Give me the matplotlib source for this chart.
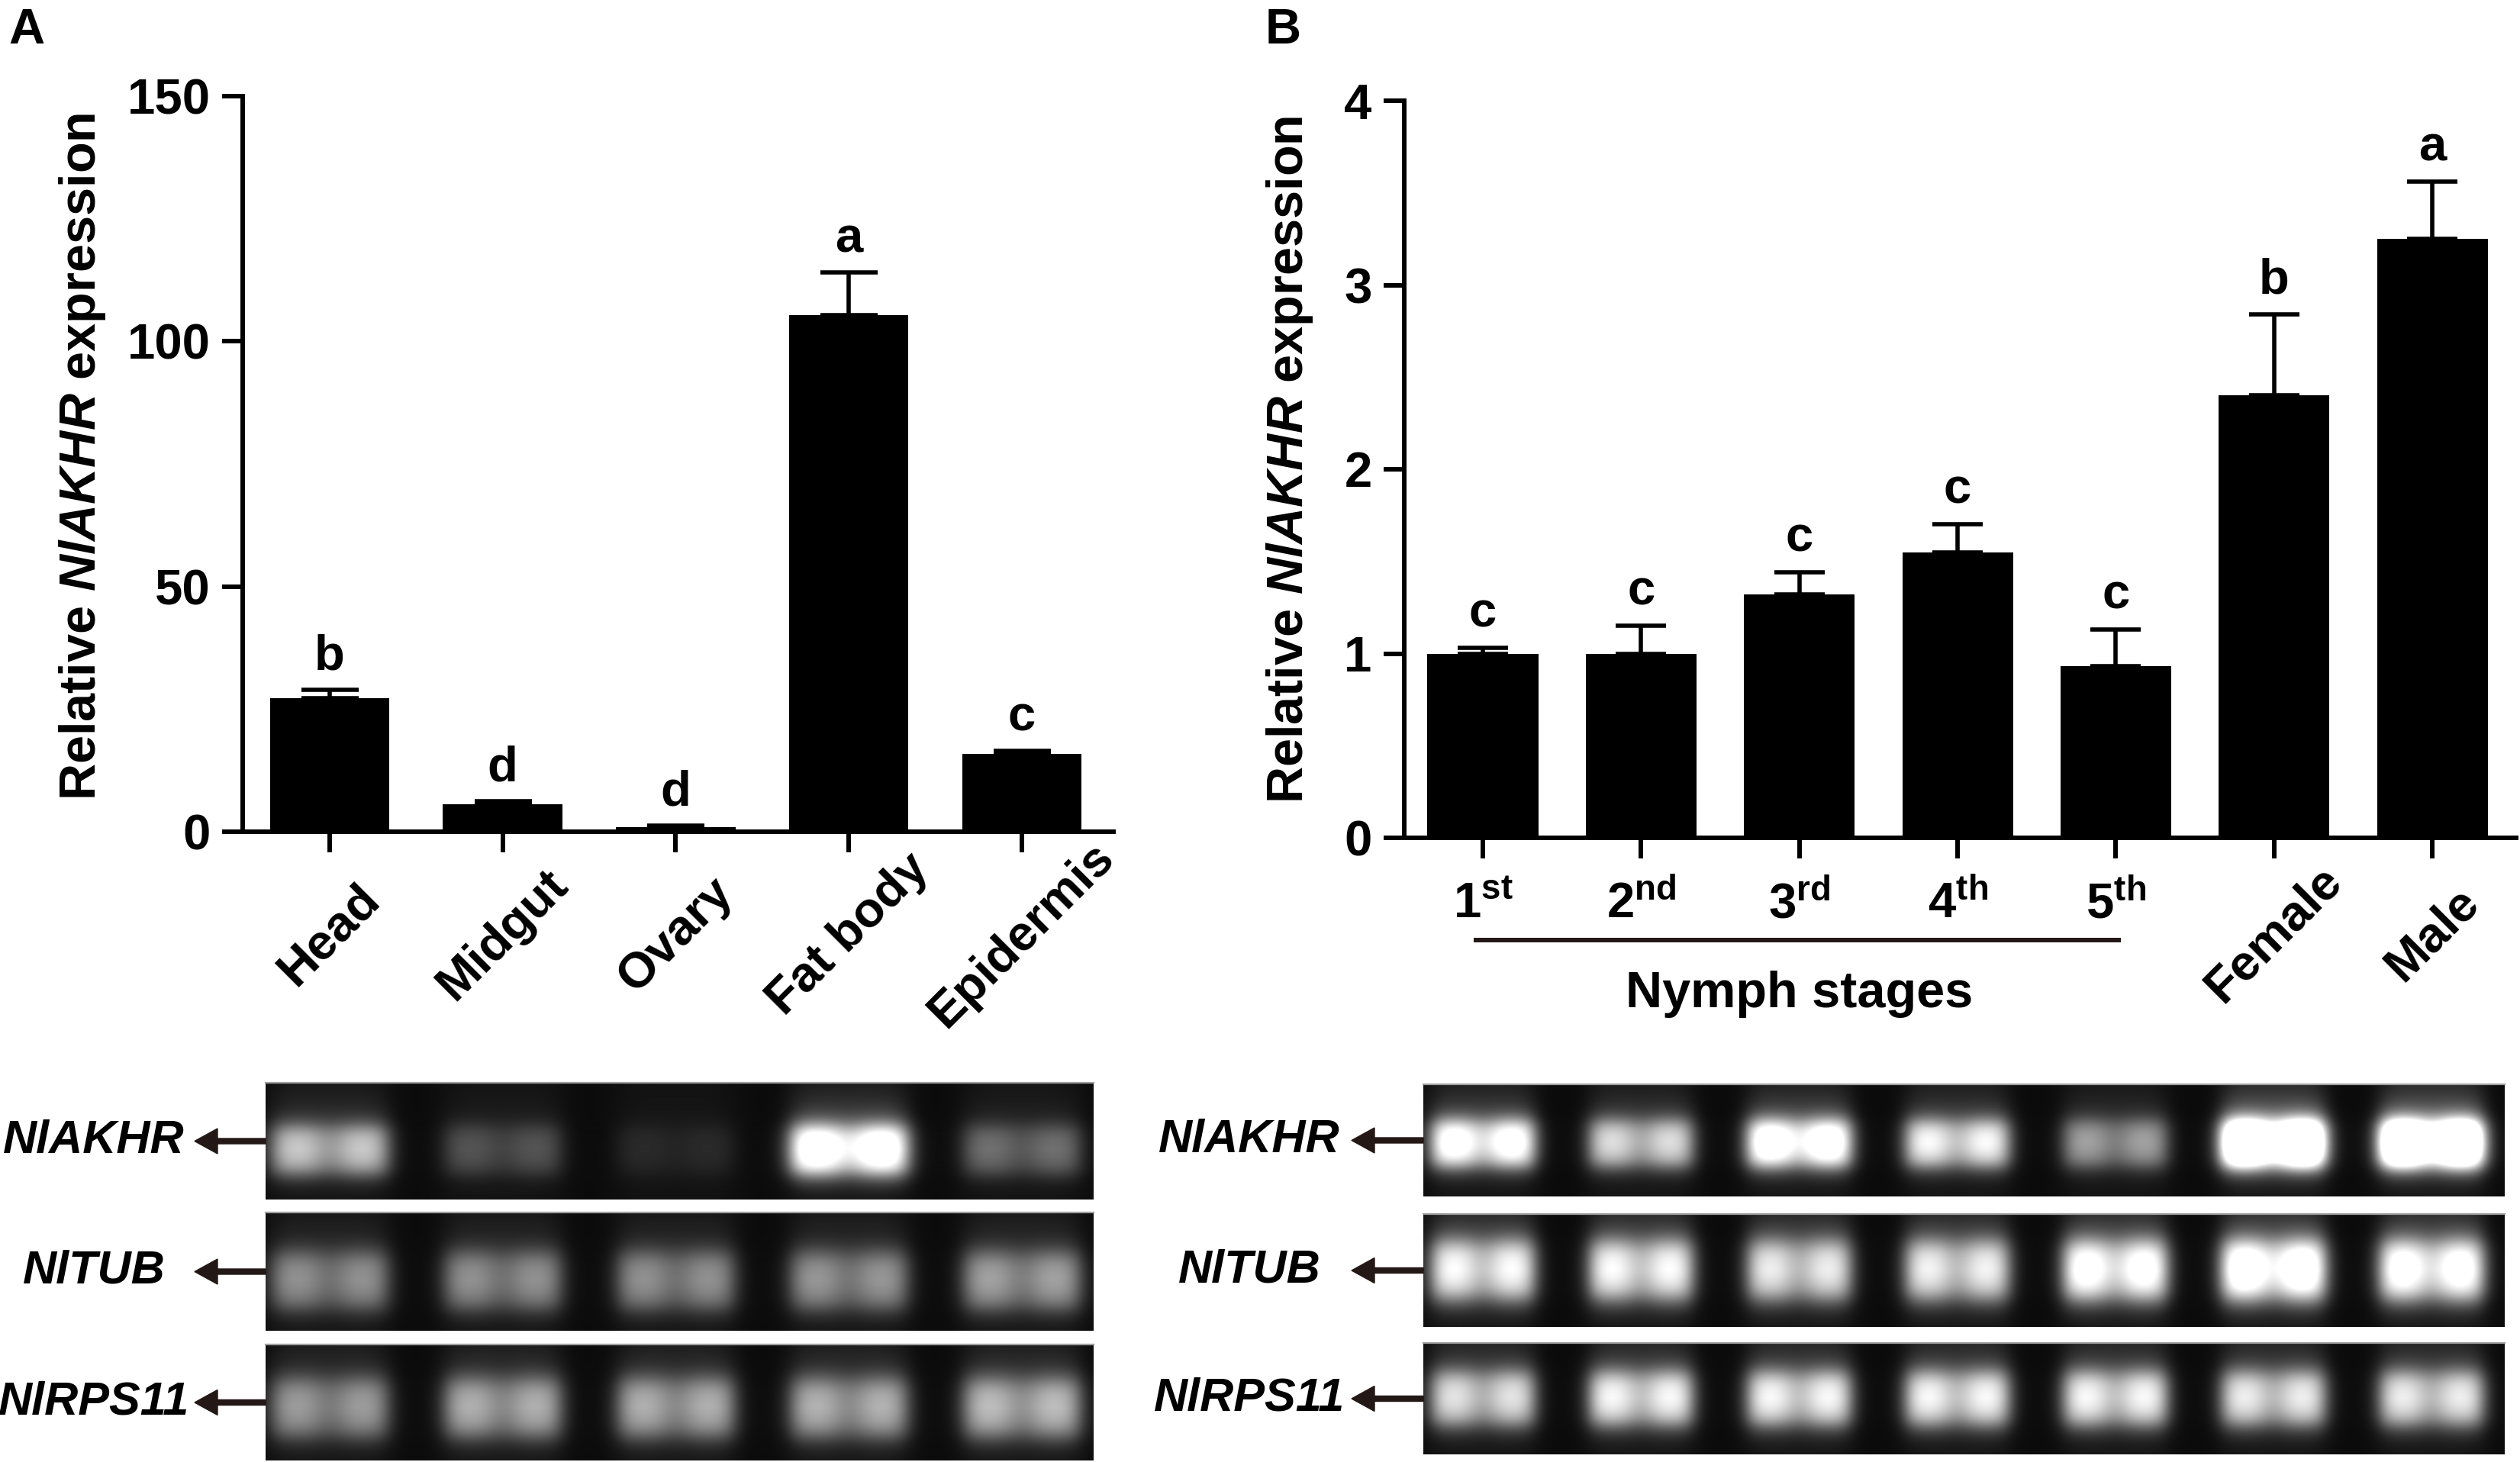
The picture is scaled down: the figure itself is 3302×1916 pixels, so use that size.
import numpy as np
import matplotlib
matplotlib.use("Agg")
import matplotlib.pyplot as plt
import matplotlib.transforms as mtransforms
from matplotlib.patches import FancyArrow

plt.rcParams['font.family'] = ['Liberation Sans', 'DejaVu Sans']
plt.rcParams['font.weight'] = 'bold'
plt.rcParams['mathtext.fontset'] = 'custom'
plt.rcParams['mathtext.rm'] = 'Liberation Sans:bold'
plt.rcParams['mathtext.bf'] = 'Liberation Sans:bold'
plt.rcParams['mathtext.it'] = 'Liberation Sans:bold:italic'
plt.rcParams['mathtext.sf'] = 'Liberation Sans:bold'

# ---------------- data ----------------
tissues = ['Head', 'Midgut', 'Ovary', 'Fat body', 'Epidermis']
tissue_mean = [27.3, 5.6, 1.0, 105.3, 15.8]
tissue_sem = [1.6, 0.6, 0.2, 8.7, 0.7]
tissue_letters = ['b', 'd', 'd', 'a', 'c']

stages = ['1st', '2nd', '3rd', '4th', '5th', 'Female', 'Male']
stage_mean = [1.0, 1.0, 1.32, 1.55, 0.93, 2.40, 3.25]
stage_sem = [0.03, 0.15, 0.12, 0.15, 0.20, 0.44, 0.31]
stage_letters = ['c', 'c', 'c', 'c', 'c', 'b', 'a']
nymph_group = 'Nymph stages'

ylabel = r'Relative $\mathit{NlAKHR}$ expression'
yticks_a = [0, 50, 100, 150]
yticks_b = [0, 1, 2, 3, 4]

genes = ['NlAKHR', 'NlTUB', 'NlRPS11']
# band brightness per lane (1 = white, >1 saturated)
gel_a_akhr = [0.66, 0.24, 0.09, 1.10, 0.34]
gel_a_tub = [0.46, 0.46, 0.46, 0.48, 0.52]
gel_a_rps11 = [0.50, 0.57, 0.57, 0.58, 0.62]
gel_b_akhr = [1.00, 0.74, 1.10, 0.85, 0.52, 1.70, 1.70]
gel_b_tub = [0.86, 0.86, 0.80, 0.82, 0.98, 1.10, 1.00]
gel_b_rps11 = [0.76, 0.84, 0.84, 0.84, 0.84, 0.80, 0.80]

# ---------------- layout ----------------
W, H = 3302, 1916
fig = plt.figure(figsize=(W / 100, H / 100), dpi=100)
fig.patch.set_facecolor('white')

def rect(x0, y0, x1, y1):
    return [x0 / W, 1 - y1 / H, (x1 - x0) / W, (y1 - y0) / H]

FS = 47
LW = 4.3
ink = '#231815'

def style_axis(ax, yt):
    for s in ['top', 'right']:
        ax.spines[s].set_visible(False)
    for s in ['left', 'bottom']:
        ax.spines[s].set_linewidth(LW)
    ax.set_yticks(yt)
    ax.set_yticklabels([str(v) for v in yt], fontsize=FS, fontweight='bold')
    ax.tick_params(axis='both', direction='out', length=19.5, width=LW, pad=11)

# ---- Panel A bars ----
axA = fig.add_axes(rect(318, 126, 1459, 1090))
xa = np.arange(len(tissues))
axA.bar(xa, tissue_mean, width=0.69, color='black', zorder=2)
axA.errorbar(xa, tissue_mean, yerr=[np.zeros(len(xa)), tissue_sem], fmt='none',
             ecolor='black', elinewidth=4.0, capsize=27, capthick=4.0, zorder=3)
axA.set_xlim(-0.502, 4.529)
axA.set_ylim(0, 150)
style_axis(axA, yticks_a)
axA.set_xticks(xa)
axA.set_xticklabels([])
for i, lab in enumerate(tissue_letters):
    axA.annotate(lab, xy=(i, tissue_mean[i] + tissue_sem[i]), xytext=(0, 19),
                 textcoords='offset points', ha='center', va='baseline', fontsize=FS)
trA = mtransforms.blended_transform_factory(axA.transData, axA.transAxes)
for i, lab in enumerate(tissues):
    axA.text(i, -0.140, lab, transform=trA, rotation=45, rotation_mode='anchor',
             ha='center', va='center', fontsize=FS)

# ---- Panel B bars ----
axB = fig.add_axes(rect(1840, 132, 3297, 1098))
xb = np.arange(len(stages))
axB.bar(xb, stage_mean, width=0.70, color='black', zorder=2)
axB.errorbar(xb, stage_mean, yerr=[np.zeros(len(xb)), stage_sem], fmt='none',
             ecolor='black', elinewidth=4.0, capsize=24, capthick=4.0, zorder=3)
axB.set_xlim(-0.497, 6.53)
axB.set_ylim(0, 4)
style_axis(axB, yticks_b)
axB.set_xticks(xb)
axB.set_xticklabels([])
for i, lab in enumerate(stage_letters):
    axB.annotate(lab, xy=(i, stage_mean[i] + stage_sem[i]), xytext=(0, 20),
                 textcoords='offset points', ha='center', va='baseline', fontsize=FS)
trB = mtransforms.blended_transform_factory(axB.transData, axB.transAxes)
for i, lab in enumerate(stages):
    if lab[0].isdigit():
        txt = r'$\mathbf{%s}^{\mathbf{%s}}$' % (lab[0], lab[1:])
        axB.text(i, -0.1087, txt, transform=trB, ha='center', va='baseline', fontsize=FS)
    else:
        axB.text(i, -0.131, lab, transform=trB, rotation=45, rotation_mode='anchor',
                 ha='center', va='center', fontsize=FS)
n_nymph = sum(1 for s in stages if s[0].isdigit())
axB.plot([-0.06, n_nymph - 1 + 0.03], [-0.1387, -0.1387], transform=trB, color=ink,
         lw=LW, clip_on=False, solid_capstyle='butt')
axB.text((n_nymph - 1) / 2, -0.2298, nymph_group, transform=trB, ha='center',
         va='baseline', fontsize=FS + 1)

# ---- y labels and panel letters ----
fig.text(108 / W, 1 - 598 / H, ylabel, rotation=90, ha='center', va='center', fontsize=48)
fig.text(1690 / W, 1 - 602 / H, ylabel, rotation=90, ha='center', va='center', fontsize=48)
fig.text(11 / W, 1 - 57 / H, 'A', ha='left', va='baseline', fontsize=47)
fig.text(1658 / W, 1 - 57 / H, 'B', ha='left', va='baseline', fontsize=47)

# ---------------- gels ----------------
def sig(z):
    return 1.0 / (1.0 + np.exp(-z))

def draw_gel(px, xlim, intens, half_w, vc, vh, dip):
    x0, y0, x1, y1 = px
    ax = fig.add_axes(rect(x0, y0, x1, y1))
    ncol, nrow = int(x1 - x0), int(y1 - y0)
    xs = np.linspace(xlim[0], xlim[1], ncol)
    ys = np.linspace(0, 1, nrow)
    X, Y = np.meshgrid(xs, ys)
    img = np.full(X.shape, 0.035)
    for c, I in enumerate(intens):
        dx = X - c
        u = np.abs(dx) / half_w
        hprof = sig((1 - u) / 0.11)
        dipf = 1 - dip * np.exp(-(dx / (0.36 * half_w)) ** 2)
        dy = (Y - vc) / vh
        vprof = sig((1 - np.abs(dy)) / 0.26)
        halo = 0.17 * np.exp(-(u / 1.05) ** 6) * np.exp(-((dy + 0.7) / 1.9) ** 2)
        lane = 0.035 * np.exp(-(u / 1.3) ** 4)
        img += I * (hprof * dipf * vprof + halo) + lane
    img = np.clip(img, 0, 1)
    ax.imshow(img, cmap='gray', vmin=0, vmax=1, extent=[xlim[0], xlim[1], 1, 0],
              aspect='auto', interpolation='bilinear')
    ax.set_xlim(*xlim)
    ax.set_ylim(1, 0)
    ax.axis('off')
    ax.plot(xlim, [0, 0], color='#a0a0a0', lw=1.6, clip_on=False)
    return ax

def arrow(x_start, x_tip, yc):
    a = FancyArrow(x_start / W, 1 - yc / H, (x_tip - x_start) / W, 0,
                   width=7 / H, head_width=33 / H, head_length=30 / W,
                   length_includes_head=True, color=ink, transform=fig.transFigure)
    fig.add_artist(a)

rows_a = [(348, 1419, 1433, 1572), (348, 1589, 1433, 1744), (348, 1762, 1433, 1914)]
rows_b = [(1865, 1421, 3282, 1568), (1865, 1591, 3282, 1739), (1865, 1760, 3282, 1906)]
vpos_a = [(0.58, 0.20), (0.58, 0.23), (0.55, 0.24)]
vpos_b = [(0.53, 0.20), (0.50, 0.25), (0.50, 0.23)]
gels_a = [gel_a_akhr, gel_a_tub, gel_a_rps11]
gels_b = [gel_b_akhr, gel_b_tub, gel_b_rps11]

for k in range(3):
    draw_gel(rows_a[k], (-0.37, 4.41), gels_a[k], 0.33, vpos_a[k][0], vpos_a[k][1], 0.30)
    draw_gel(rows_b[k], (-0.376, 6.459), gels_b[k], 0.32, vpos_b[k][0], vpos_b[k][1], 0.30)
    yca = (rows_a[k][1] + rows_a[k][3]) / 2
    ycb = (rows_b[k][1] + rows_b[k][3]) / 2
    arrow(348, 255, yca)
    arrow(1865, 1771, ycb)
    fig.text(123 / W, 1 - yca / H, genes[k], style='italic', fontweight='bold',
             fontsize=44, ha='center', va='center')
    fig.text(1637 / W, 1 - ycb / H, genes[k], style='italic', fontweight='bold',
             fontsize=44, ha='center', va='center')

fig.savefig('out.png', dpi=100, facecolor='white')
